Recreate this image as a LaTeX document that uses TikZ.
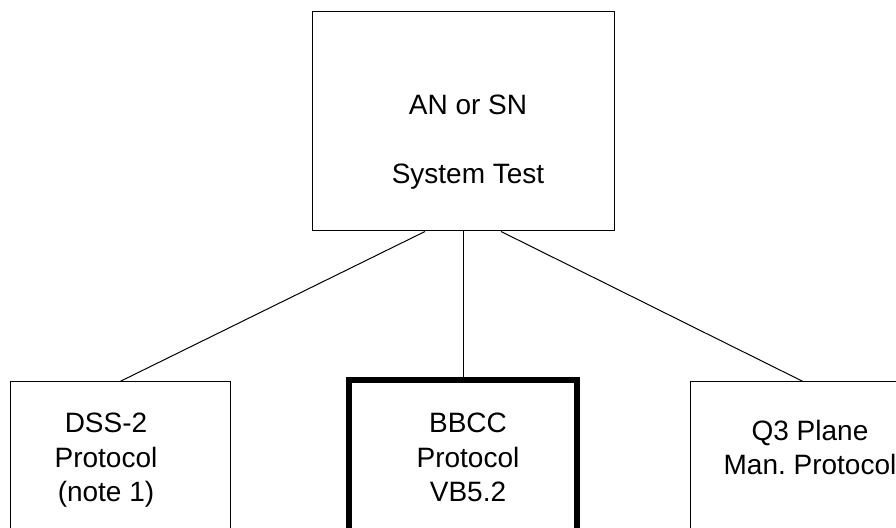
\documentclass[tikz,border=0pt]{standalone}
\usepackage{fontspec}
\setmainfont{Liberation Sans}
\usetikzlibrary{positioning}
\frenchspacing

\begin{document}
\begin{tikzpicture}[x=0.5pt, y=-0.5pt,
		box/.style={draw=black, line width=0.5pt, rectangle, inner sep=0pt, minimum height=120pt},
		boldbox/.style={box, line width=3pt},
		toptext/.style={font=\fontsize{14}{17.25}\selectfont, align=center, anchor=base},
		boxtext/.style={font=\fontsize{14}{17.25}\selectfont, align=center, anchor=base},
		link/.style={draw=black, line width=0.5pt}]
		
		\useasboundingbox (0,0) rectangle (896,528);
		\clip (0,0) rectangle (896,528);
		
		\node[box, minimum width=151pt, minimum height=109.5pt] (systest) at (463,121.5) {};
		\node[toptext] (systesttext) at (468,184) {AN or SN\\[17.25pt]System Test};
		
		\node[box, minimum width=110pt] (dss) at (120,502) {};
		\node[boldbox, minimum width=114pt] (bbcc) at (463,500) {};
		\node[box, minimum width=113pt] (qthree) at (803,502) {};
		
		\node[boxtext] (dsstext) at (106,502) {DSS-2\\Protocol\\(note 1)};
		\node[boxtext] (bbcctext) at (468,502) {BBCC\\Protocol\\VB5.2};
		\node[boxtext] (qthreetext) at (810,475) {Q3 Plane\\Man. Protocol};
		
		\draw[link] ([xshift=-19pt]systest.south) -- (dss.north);
		\draw[link] (systest.south) -- (bbcc.north);
		\draw[link] ([xshift=19pt]systest.south) -- (qthree.north);
		
\end{tikzpicture}
\end{document}
